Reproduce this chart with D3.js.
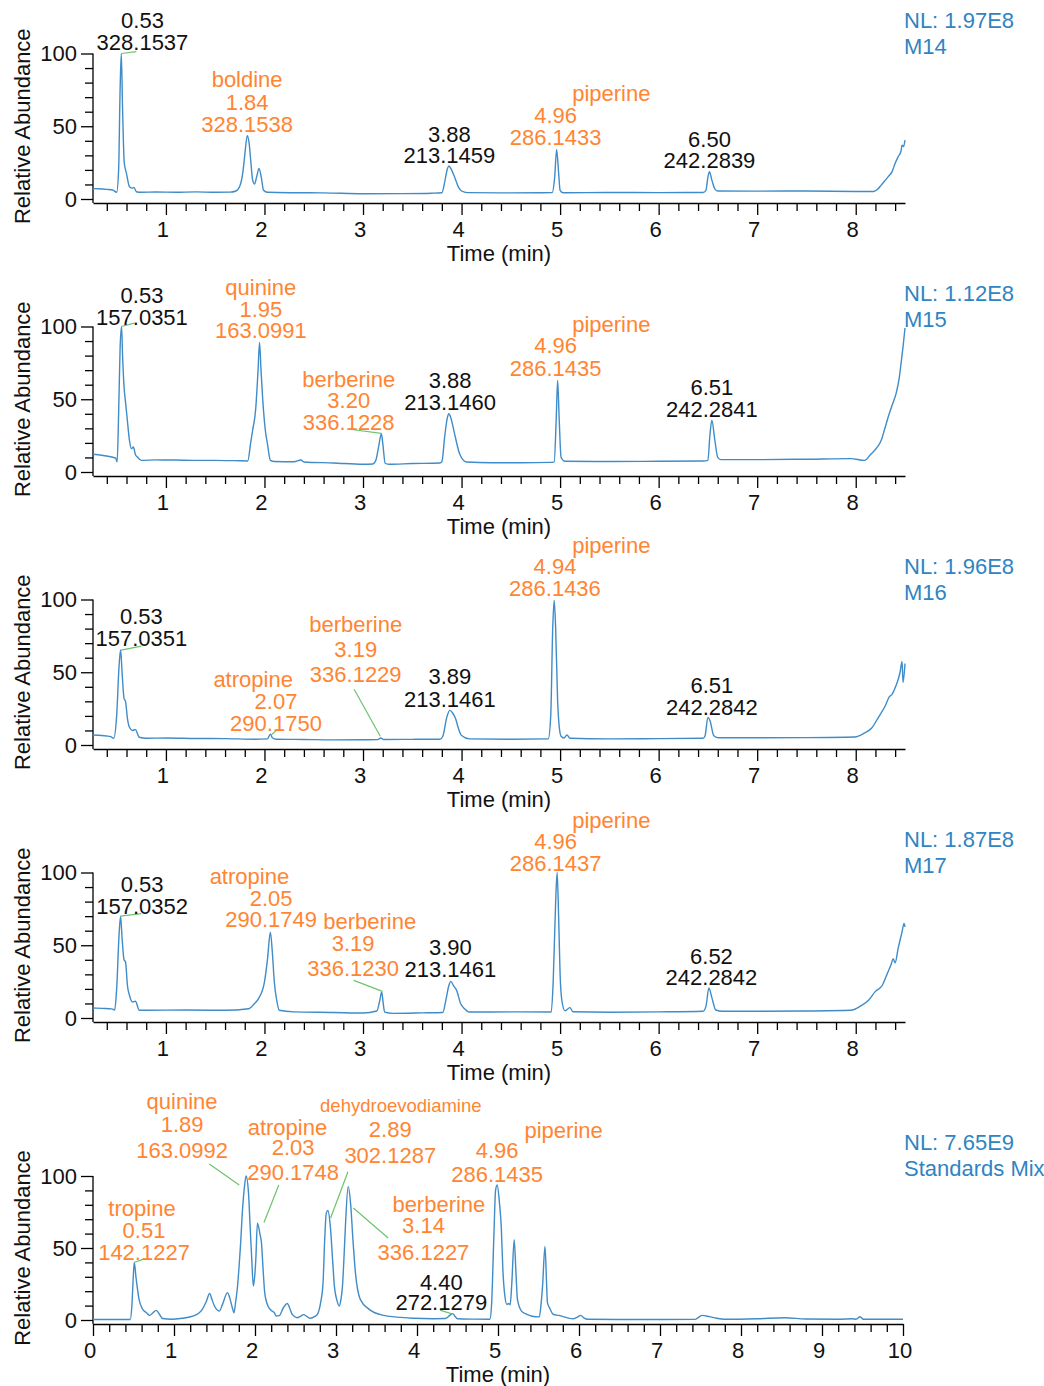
<!DOCTYPE html>
<html>
<head>
<meta charset="utf-8">
<script src="https://d3js.org/d3.v7.min.js"></script>
<style>
    body { margin: 0; background: #fff; }
    svg text { font-family: "Liberation Sans", Arial, sans-serif; }
</style>
</head>
<body>
<div id="chart"></div>
<script>
// sample names and normalisation levels, top to bottom
var samples = ["M14", "M15", "M16", "M17", "Standards Mix"];
var nlValues = ["1.97E8", "1.12E8", "1.96E8", "1.87E8", "7.65E9"];

// chromatogram traces, [time (min), relative abundance]
var traceM14 = [[0.26,7.1],[0.32,7.0],[0.40,6.6],[0.46,6.2],[0.50,4.6],[0.52,20],[0.535,75],[0.547,100],[0.56,62],
    [0.577,25],[0.60,17.5],[0.63,8.5],[0.66,7.5],[0.675,8],[0.70,5],[0.75,4.6],[0.9,4.8],[1.1,4.6],[1.3,4.9],[1.5,4.6],
    [1.65,4.7],[1.71,5.5],[1.75,9],[1.78,18],[1.80,30],[1.825,43.5],[1.845,38],[1.86,27],[1.88,13],[1.90,10.3],[1.92,15],
    [1.945,21],[1.97,14],[1.99,6],[2.03,4.6],[2.3,4.3],[2.6,4.2],[3.0,3.6],[3.4,3.7],[3.7,4.0],[3.80,4.3],[3.83,12],
    [3.855,20.5],[3.87,22.7],[3.89,21],[3.93,15],[3.97,8],[4.0,5.5],[4.06,4.4],[4.4,4.2],[4.8,4.3],[4.92,4.4],[4.945,15],
    [4.965,34],[4.985,18],[5.0,6],[5.03,4.3],[5.5,4.5],[6.0,4.4],[6.45,4.5],[6.48,6],[6.50,15],[6.515,18.8],[6.54,13],
    [6.57,7],[6.60,5.5],[7.0,5.4],[7.5,5.5],[8.0,5.2],[8.18,5.2],[8.22,6.5],[8.26,9.7],[8.33,15.4],[8.37,19],[8.40,24.5],
    [8.43,29],[8.46,33],[8.47,37],[8.485,36],[8.5,40.5]];
var traceM15 = [[0.26,12.2],[0.35,11.5],[0.45,10.3],[0.49,9.5],[0.505,6.9],[0.52,40],[0.535,85],[0.55,100],[0.56,80],
    [0.575,58.6],[0.59,48],[0.605,38],[0.63,21.8],[0.65,16],[0.67,17.2],[0.69,12],[0.71,10.3],[0.75,8],[0.9,8.3],[1.1,8.2],
    [1.3,8.0],[1.5,8.0],[1.7,7.8],[1.83,7.6],[1.86,20],[1.88,28.7],[1.91,42.5],[1.935,70],[1.95,89],[1.965,70],[1.99,42.5],
    [2.01,28],[2.03,19.5],[2.06,8],[2.1,7.2],[2.3,7.0],[2.37,8.2],[2.4,6.9],[2.7,6.2],[3.0,5.3],[3.1,5.5],[3.13,8],[3.16,18],
    [3.186,26.4],[3.20,20],[3.225,6],[3.26,5.3],[3.5,5.8],[3.78,6.2],[3.80,7],[3.83,25],[3.855,37],[3.87,40],[3.89,37.5],
    [3.93,26],[3.98,12.6],[4.05,6.9],[4.3,6.4],[4.6,6.4],[4.9,6.6],[4.94,7],[4.96,35],[4.975,63],[4.99,38],[5.01,10],
    [5.05,7.4],[5.5,7.2],[6.0,7.4],[6.45,7.6],[6.50,8],[6.52,25],[6.54,35.6],[6.57,22],[6.60,10],[6.63,8.5],[7.0,8.5],
    [7.5,8.8],[7.95,9.2],[8.09,8],[8.15,12],[8.22,17.2],[8.26,22],[8.29,28.7],[8.34,40],[8.37,46],[8.41,54],[8.44,64],
    [8.46,74.7],[8.48,86],[8.5,99]];
var traceM16 = [[0.26,6.9],[0.35,6.5],[0.44,5.8],[0.47,4.6],[0.50,20],[0.525,55],[0.54,65.4],[0.555,50],[0.575,32],
    [0.59,30],[0.61,18],[0.63,12.2],[0.66,10],[0.69,10.6],[0.73,5.3],[0.8,4.6],[1.0,4.8],[1.3,4.5],[1.6,4.4],[1.9,4.0],
    [2.03,4.2],[2.06,7.5],[2.08,5],[2.12,4.0],[2.4,3.8],[2.7,3.5],[3.0,3.6],[3.15,3.7],[3.18,4.8],[3.21,3.8],[3.5,3.9],
    [3.78,4.0],[3.81,6],[3.85,19],[3.88,23.8],[3.91,22],[3.94,18],[3.97,11],[4.0,6.5],[4.08,4.2],[4.5,4.0],[4.88,4.2],
    [4.905,20],[4.925,80],[4.94,99.5],[4.955,80],[4.975,30],[4.99,13.4],[5.01,6],[5.04,4.8],[5.07,6.9],[5.10,4.6],
    [5.5,4.2],[6.0,4.4],[6.45,4.6],[6.47,6],[6.50,19],[6.52,17],[6.56,6.4],[6.61,5],[7.0,5.0],[7.5,5.1],[7.99,5.5],
    [8.09,8.3],[8.16,11.5],[8.23,19],[8.30,27],[8.34,33],[8.37,35],[8.41,41],[8.45,50],[8.47,57.5],[8.48,43],[8.5,56]];
var traceM17 = [[0.26,6.9],[0.35,6.6],[0.45,6.3],[0.48,5.5],[0.50,20],[0.525,58],[0.54,70],[0.555,55],[0.575,40],
    [0.59,38.5],[0.61,22],[0.63,15.6],[0.66,11],[0.69,11.5],[0.73,5.3],[0.8,5.3],[1.2,5.5],[1.6,5.3],[1.84,6.4],[1.90,10],
    [1.94,13.3],[2.0,24.8],[2.03,40],[2.06,59],[2.08,45],[2.10,24.8],[2.125,12],[2.15,5.3],[2.3,4.2],[2.7,3.8],[3.0,3.4],
    [3.14,4.8],[3.17,12],[3.19,17.9],[3.205,10],[3.22,4],[3.3,3.2],[3.6,3.5],[3.81,3.8],[3.84,12],[3.87,22],[3.89,25.2],
    [3.92,22],[3.95,19],[3.99,10],[4.03,6.4],[4.08,4.1],[4.5,4.2],[4.91,4.1],[4.93,25],[4.955,80],[4.97,100],[4.985,70],
    [5.0,30],[5.02,11],[5.05,5],[5.10,7.1],[5.13,4.3],[5.5,4.0],[6.0,4.2],[6.45,4.6],[6.48,8],[6.51,20.6],[6.54,14],
    [6.58,5.5],[6.65,4.6],[7.0,4.6],[7.5,4.8],[7.95,5.3],[8.06,8.7],[8.13,12.2],[8.20,18.3],[8.27,22.5],[8.32,30.5],
    [8.36,37],[8.38,40.8],[8.40,38],[8.43,47.7],[8.47,59.2],[8.49,65],[8.5,62.6]];
var traceMix = [[0,0.3],[0.3,0.3],[0.46,0.3],[0.48,10],[0.50,33],[0.51,40],[0.53,30],[0.57,14],[0.61,7.8],[0.66,5],
    [0.70,3.2],[0.74,5],[0.78,6.7],[0.82,4],[0.86,1],[0.97,0.5],[1.1,1.2],[1.24,2.8],[1.30,4.5],[1.35,7.4],[1.40,13],
    [1.44,18.4],[1.47,14],[1.50,9.7],[1.56,6.2],[1.60,11],[1.66,19],[1.69,15],[1.72,8.5],[1.74,5],[1.76,12],[1.78,21],
    [1.82,51],[1.85,80],[1.87,92.6],[1.89,100],[1.92,88],[1.94,65],[1.96,42],[1.98,23.5],[2.0,33],[2.01,42],[2.03,67.3],
    [2.06,60],[2.08,53.5],[2.10,35],[2.12,19],[2.16,9.7],[2.21,6.2],[2.24,5],[2.26,2.8],[2.30,3],[2.35,8.5],[2.40,11.5],
    [2.43,8],[2.46,3.9],[2.52,1.6],[2.56,2.5],[2.60,3.7],[2.64,2.5],[2.68,1.2],[2.74,2.5],[2.77,3.9],[2.81,12],[2.84,25.8],
    [2.86,55],[2.88,74.2],[2.90,76],[2.93,65],[2.96,40],[2.98,23.5],[3.01,14],[3.04,9.7],[3.06,14],[3.08,23.5],[3.10,45],
    [3.12,69.6],[3.15,92.6],[3.18,81],[3.21,55],[3.24,32.7],[3.30,14.3],[3.41,7.4],[3.59,3.2],[3.8,1.8],[3.95,1.2],
    [4.2,0.9],[4.35,1],[4.40,3],[4.44,4.4],[4.47,2.5],[4.50,0.9],[4.7,0.6],[4.90,0.5],[4.92,10],[4.95,60],[4.97,90],
    [4.99,93.8],[5.02,80],[5.04,65],[5.06,35],[5.08,19],[5.11,10.8],[5.13,11.5],[5.15,10.5],[5.17,25],[5.20,55.8],
    [5.22,35],[5.24,14.3],[5.29,6.2],[5.35,4],[5.41,2.8],[5.51,2.2],[5.53,10],[5.55,23.5],[5.58,51],[5.60,25],[5.61,12],
    [5.64,8],[5.68,4],[5.75,3.2],[5.93,0.9],[5.98,2],[6.02,3.2],[6.06,1.5],[6.1,0.5],[6.5,0.3],[7.0,0.3],[7.43,0.4],
    [7.48,2],[7.52,3.2],[7.61,2.3],[7.7,1.2],[7.79,0.5],[8.2,0.9],[8.54,1.6],[8.8,0.7],[9.2,0.5],[9.38,0.9],[9.42,0.5],
    [9.47,2.3],[9.51,0.5],[10,0.5]];
var traces = [traceM14, traceM15, traceM16, traceM17, traceMix];

// peak labels: name ("" = unidentified), retention time, m/z
var peaksM14 = [["", "0.53", "328.1537"], ["boldine", "1.84", "328.1538"], ["", "3.88", "213.1459"],
    ["piperine", "4.96", "286.1433"], ["", "6.50", "242.2839"]];
var peaksM15 = [["", "0.53", "157.0351"], ["quinine", "1.95", "163.0991"], ["berberine", "3.20", "336.1228"],
    ["", "3.88", "213.1460"], ["piperine", "4.96", "286.1435"], ["", "6.51", "242.2841"]];
var peaksM16 = [["", "0.53", "157.0351"], ["atropine", "2.07", "290.1750"], ["berberine", "3.19", "336.1229"],
    ["", "3.89", "213.1461"], ["piperine", "4.94", "286.1436"], ["", "6.51", "242.2842"]];
var peaksM17 = [["", "0.53", "157.0352"], ["atropine", "2.05", "290.1749"], ["berberine", "3.19", "336.1230"],
    ["", "3.90", "213.1461"], ["piperine", "4.96", "286.1437"], ["", "6.52", "242.2842"]];
var peaksMix = [["tropine", "0.51", "142.1227"], ["quinine", "1.89", "163.0992"], ["atropine", "2.03", "290.1748"],
    ["dehydroevodiamine", "2.89", "302.1287"], ["berberine", "3.14", "336.1227"], ["", "4.40", "272.1279"],
    ["piperine", "4.96", "286.1435"]];
var peakLists = [peaksM14, peaksM15, peaksM16, peaksM17, peaksMix];

// ---- layout (label spots in data units: t, a of bottom line, line gaps, name x, leader) ----
var spots = [
    [{t: 0.762, a: 102.4, gap: 22, lead: [[0.547, 100], [0.70, 101.3]]},
     {t: 1.824, a: 46.0, gap: 22.5},
     {t: 3.877, a: 24.5, gap: 21.6},
     {t: 4.955, a: 37.1, gap: 22, nameT: 5.52, nameGap: 22},
     {t: 6.516, a: 21.1, gap: 21.6}],
    [{t: 0.757, a: 101.2, gap: 21.7, lead: [[0.547, 100], [0.68, 102.3]]},
     {t: 1.963, a: 92.0, gap: 21.5},
     {t: 2.855, a: 28.8, gap: 21.7, lead: [[2.886, 29.2], [3.186, 26.5]]},
     {t: 3.884, a: 42.6, gap: 21.7},
     {t: 4.955, a: 66, gap: 22.7, nameT: 5.52, nameGap: 21.6},
     {t: 6.54, a: 37.9, gap: 21.7}],
    [{t: 0.751, a: 67.7, gap: 22.5, lead: [[0.545, 65.2], [0.75, 68]]},
     {t: 2.117, a: 9.9, gap: 21.8, nameT: 1.885, nameGap: 21.9, lead: [[2.07, 7], [2.13, 10.6]]},
     {t: 2.926, a: 43.4, gap: 25, nameGap: 25.2, lead: [[2.91, 38.3], [3.175, 6]]},
     {t: 3.882, a: 26.1, gap: 23.4},
     {t: 4.948, a: 102.3, gap: 21.7, nameT: 5.52, nameGap: 21.7},
     {t: 6.54, a: 20.7, gap: 21.7}],
    [{t: 0.758, a: 71.8, gap: 22, lead: [[0.54, 70], [0.75, 71.8]]},
     {t: 2.067, a: 62.6, gap: 21, nameT: 1.847, nameGap: 22},
     {t: 2.90, a: 29, gap: 25, nameT: 3.068, nameGap: 22, lead: [[2.906, 25.9], [3.197, 18.3]]},
     {t: 3.887, a: 28.3, gap: 21.5},
     {t: 4.955, a: 100.9, gap: 21.7, nameT: 5.52, nameGap: 21.7},
     {t: 6.536, a: 22.8, gap: 21}],
    [{t: 0.63, a: 41.9, gap: 21.6, nameT: 0.605, nameGap: 22.2, lead: [[0.511, 40.1], [0.636, 42.4]]},
     {t: 1.10, a: 112.2, gap: 26.5, nameGap: 23.3, lead: [[1.436, 108.3], [1.805, 93.75]]},
     {t: 2.47, a: 97.2, gap: 24.9, nameT: 2.40, nameGap: 19.9, lead: [[2.294, 93.75], [2.111, 67.7]]},
     {t: 3.67, a: 109.2, gap: 25.7, nameT: 3.80, nameGap: 25, small: true, lead: [[3.147, 103], [2.933, 70.8]]},
     {t: 4.08, a: 41.9, gap: 26.6, nameT: 4.27, nameGap: 21.5, lead: [[3.644, 56.9], [3.214, 77.8]]},
     {t: 4.30, a: 6.9, gap: 20.5, lead: [[4.284, 6.9], [4.42, 4.4]]},
     {t: 4.99, a: 96.1, gap: 23.2, nameT: 5.81, nameGap: 20}]
];

var W = 1044, H = 1386;
var left = 93, fs = 22;
var orange = "#ff8533", blue = "#2f84c3", lineBlue = "#3f8cc8", green = "#6cc46c";

var svg = d3.select("#chart").append("svg")
    .attr("width", W)
    .attr("height", H);

samples.forEach(function (name, i) {
    var last = i === 4;
    var y0 = last ? 1320 : 199 + 273 * i;
    var y100 = last ? 1176 : y0 - 145.5;
    var axisY = y0 + 4;

    var x = d3.scaleLinear()
        .domain(last ? [0, 10] : [0.26, 8.5])
        .range([left, last ? 903 : 905]);
    var y = d3.scaleLinear().domain([0, 100]).range([y0, y100]);

    var g = svg.append("g");

    // x axis, majors every 1 min, minors every 0.2
    var majors = d3.range(last ? 0 : 1, last ? 11 : 9);
    var minors = d3.range(0, 51).map(function (k) { return k * 0.2; })
        .filter(function (v) {
            return v >= x.domain()[0] && v <= x.domain()[1] && Math.abs(v - Math.round(v)) > 0.01;
        });

    var xAxis = g.append("g")
        .attr("transform", "translate(0," + axisY + ")")
        .call(d3.axisBottom(x).tickValues(majors).tickSize(12).tickSizeOuter(0).tickPadding(6)
            .tickFormat(d3.format("d")));
    xAxis.selectAll(".tick text").attr("dx", -3.5);
    g.append("g")
        .attr("transform", "translate(0," + axisY + ")")
        .call(d3.axisBottom(x).tickValues(minors).tickSize(8).tickFormat(""))
        .select(".domain").remove();

    // y axis
    var yAxis = g.append("g")
        .attr("transform", "translate(" + left + ",0)")
        .call(d3.axisLeft(y).tickValues([0, 50, 100]).tickSize(12).tickPadding(4));
    yAxis.select(".domain").remove();
    g.append("g")
        .attr("transform", "translate(" + left + ",0)")
        .call(d3.axisLeft(y).tickValues([10, 20, 30, 40, 60, 70, 80, 90]).tickSize(8).tickFormat(""))
        .select(".domain").remove();
    g.append("line")
        .attr("x1", left).attr("x2", left)
        .attr("y1", y(100)).attr("y2", axisY)
        .attr("stroke", "#000").attr("stroke-width", 1.3);

    g.selectAll(".tick line").attr("stroke", "#000").attr("stroke-width", 1.3);
    g.selectAll(".domain").attr("stroke", "#000").attr("stroke-width", 1.3);
    g.selectAll(".tick text").attr("font-size", fs).attr("fill", "#111")
        .style("font-family", "'Liberation Sans', Arial, sans-serif");

    // axis titles
    g.append("text")
        .attr("x", (x.range()[0] + x.range()[1]) / 2)
        .attr("y", y0 + 62)
        .attr("text-anchor", "middle")
        .attr("font-size", fs)
        .attr("fill", "#111")
        .text("Time (min)");
    g.append("text")
        .attr("transform", "translate(30," + ((y0 + y100) / 2) + ") rotate(-90)")
        .attr("text-anchor", "middle")
        .attr("font-size", fs)
        .attr("fill", "#111")
        .text("Relative Abundance");

    // trace
    g.append("path")
        .datum(traces[i])
        .attr("fill", "none")
        .attr("stroke", lineBlue)
        .attr("stroke-width", 1.4)
        .attr("d", d3.line()
            .x(function (d) { return x(d[0]); })
            .y(function (d) { return y(d[1]); })
            .curve(d3.curveMonotoneX));

    // peak labels
    peakLists[i].forEach(function (p, k) {
        var s = spots[i][k];
        var col = p[0] ? orange : "#111";
        if (s.lead) {
            g.append("line")
                .attr("x1", x(s.lead[0][0])).attr("y1", y(s.lead[0][1]))
                .attr("x2", x(s.lead[1][0])).attr("y2", y(s.lead[1][1]))
                .attr("stroke", green).attr("stroke-width", 1.2);
        }
        var base = y(s.a);
        g.append("text").attr("x", x(s.t)).attr("y", base)
            .attr("text-anchor", "middle").attr("font-size", fs).attr("fill", col).text(p[2]);
        g.append("text").attr("x", x(s.t)).attr("y", base - s.gap)
            .attr("text-anchor", "middle").attr("font-size", fs).attr("fill", col).text(p[1]);
        if (p[0]) {
            g.append("text")
                .attr("x", x(s.nameT !== undefined ? s.nameT : s.t))
                .attr("y", base - s.gap - (s.nameGap || s.gap))
                .attr("text-anchor", "middle")
                .attr("font-size", s.small ? 18.5 : fs)
                .attr("fill", col)
                .text(p[0]);
        }
    });

    // NL / sample name
    g.append("text").attr("x", 904).attr("y", y100 - 26)
        .attr("font-size", fs).attr("fill", blue).text("NL: " + nlValues[i]);
    g.append("text").attr("x", 904).attr("y", y100)
        .attr("font-size", fs).attr("fill", blue).text(name);
});
</script>
</body>
</html>
